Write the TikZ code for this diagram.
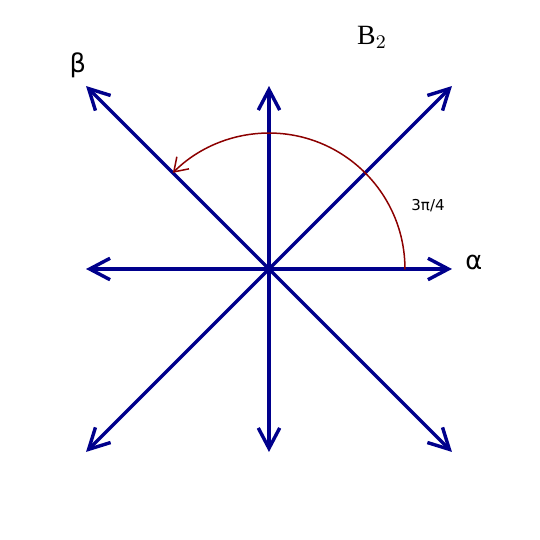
\documentclass[tikz,border=0pt]{standalone}
\usepackage{fontspec}
\newfontfamily\dejavu{DejaVu Sans}
\setmainfont{Liberation Serif}
\usetikzlibrary{arrows.meta}
\begin{document}
\begin{tikzpicture}[scale=3, line join=round, line cap=round,
	root/.style={draw={rgb,255:red,0;green,0;blue,140}, line width=1.6pt, -{Straight Barb[length=9.5pt,width=10pt,line width=1.6pt]}},
	ang/.style={draw={rgb,255:red,140;green,0;blue,0}, line width=0.7pt, -{Straight Barb[length=6pt,width=8pt,line width=0.7pt]}}]
		\def\s{1} \def\l{1.414} \def\r{0.743} % short, long, arc radius
		\useasboundingbox (-1.470,-1.481) rectangle (1.481,1.470);
		\coordinate (O) at (0,0);
		\foreach \t in {0,90,180,270} \coordinate (s\t) at (\t:\s);
		\foreach \t in {45,135,225,315} \coordinate (l\t) at (\t:\l);
		\foreach \t in {0,90,180,270} \draw[root] (O)--(s\t);
		\foreach \t in {45,135,225,315} \draw[root] (O)--(l\t);
		\draw[ang] (\r,0) arc (0:135:\r);
		\node (alpha) at (1.120,0.033) {\dejavu\fontsize{12}{14}\selectfont α};
		\node (beta) at (-1.044,1.115) {\dejavu\fontsize{12}{14}\selectfont β};
		\node (ang) at (0.869,0.344) {\dejavu\fontsize{7}{8}\selectfont 3π/4};
		\node (B2) at (0.563,1.268) {\fontsize{13}{15}\selectfont B$_2$};
		\end{tikzpicture}
\end{document}
